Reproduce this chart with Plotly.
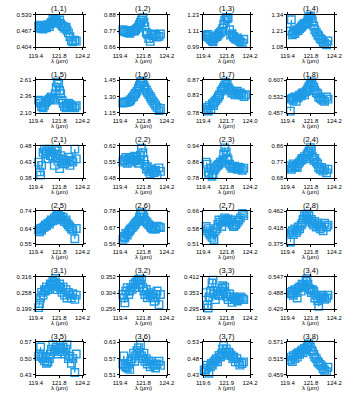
import plotly.graph_objects as go

# Wavelength samples (μm) shared by every panel
wavelength = [119.7, 119.8, 119.9, 120.0, 120.15, 120.3, 120.4, 120.5, 120.65, 120.8,
              120.9, 121.0, 121.15, 121.3, 121.4, 121.5, 121.6, 121.75, 121.85, 121.95,
              122.1, 122.2, 122.35, 122.5, 122.6, 122.75, 122.9, 123.05, 123.2, 123.4, 123.55]

panel_titles = ["(1,1)", "(1,2)", "(1,3)", "(1,4)", "(1,5)", "(1,6)", "(1,7)", "(1,8)",
                "(2,1)", "(2,2)", "(2,3)", "(2,4)", "(2,5)", "(2,6)", "(2,7)", "(2,8)",
                "(3,1)", "(3,2)", "(3,3)", "(3,4)", "(3,5)", "(3,6)", "(3,7)", "(3,8)"]

# Flux per panel
flux_1_1 = [0.485, 0.478, 0.490, 0.480, 0.475, 0.482, 0.488, 0.480, 0.492, 0.485, 0.495, 0.500, 0.512, 0.505, 0.515, 0.508, 0.502, 0.498, 0.510, 0.495, 0.488, 0.485, 0.478, 0.482, 0.470, 0.460, 0.445, 0.430, 0.425, 0.432, 0.428]
flux_1_2 = [0.780, 0.770, 0.765, 0.775, 0.760, 0.770, 0.755, 0.765, 0.770, 0.775, 0.770, 0.780, 0.790, 0.800, 0.815, 0.830, 0.845, 0.860, 0.830, 0.800, 0.760, 0.750, 0.720, 0.700, 0.745, 0.740, 0.750, 0.745, 0.730, 0.735, 0.750]
flux_1_3 = [1.080, 1.070, 1.085, 1.060, 1.050, 1.040, 1.030, 1.055, 1.065, 1.070, 1.080, 1.090, 1.100, 1.110, 1.130, 1.160, 1.190, 1.210, 1.200, 1.210, 1.120, 1.080, 1.090, 1.070, 1.060, 1.050, 1.060, 1.040, 1.030, 1.020, 1.050]
flux_1_4 = [1.210, 1.300, 1.180, 1.200, 1.190, 1.210, 1.220, 1.215, 1.230, 1.240, 1.250, 1.260, 1.270, 1.265, 1.280, 1.300, 1.320, 1.330, 1.310, 1.290, 1.250, 1.220, 1.200, 1.180, 1.170, 1.150, 1.140, 1.120, 1.110, 1.100, 1.130]
flux_1_5 = [2.300, 2.280, 2.250, 2.200, 2.180, 2.220, 2.260, 2.280, 2.300, 2.310, 2.330, 2.350, 2.320, 2.300, 2.400, 2.500, 2.580, 2.550, 2.450, 2.400, 2.300, 2.250, 2.200, 2.180, 2.220, 2.250, 2.230, 2.200, 2.190, 2.180, 2.210]
flux_1_6 = [1.240, 1.245, 1.250, 1.245, 1.250, 1.255, 1.260, 1.270, 1.290, 1.300, 1.320, 1.330, 1.350, 1.380, 1.400, 1.420, 1.440, 1.430, 1.400, 1.380, 1.360, 1.340, 1.320, 1.300, 1.280, 1.260, 1.240, 1.220, 1.200, 1.170, 1.190]
flux_1_7 = [0.790, 0.795, 0.785, 0.800, 0.790, 0.805, 0.800, 0.810, 0.815, 0.820, 0.825, 0.830, 0.840, 0.845, 0.850, 0.855, 0.865, 0.860, 0.850, 0.845, 0.840, 0.835, 0.840, 0.830, 0.835, 0.840, 0.830, 0.835, 0.830, 0.825, 0.830]
flux_1_8 = [0.465, 0.520, 0.525, 0.515, 0.530, 0.510, 0.525, 0.530, 0.540, 0.535, 0.545, 0.550, 0.540, 0.555, 0.560, 0.570, 0.580, 0.590, 0.600, 0.585, 0.575, 0.560, 0.550, 0.545, 0.530, 0.525, 0.520, 0.515, 0.510, 0.530, 0.520]
flux_2_1 = [0.430, 0.400, 0.390, 0.420, 0.460, 0.470, 0.455, 0.465, 0.440, 0.470, 0.450, 0.460, 0.445, 0.420, 0.470, 0.455, 0.465, 0.440, 0.410, 0.450, 0.430, 0.440, 0.425, 0.435, 0.430, 0.445, 0.420, 0.435, 0.430, 0.470, 0.440]
flux_2_2 = [0.550, 0.560, 0.555, 0.570, 0.545, 0.565, 0.560, 0.570, 0.550, 0.560, 0.575, 0.555, 0.570, 0.545, 0.560, 0.580, 0.610, 0.590, 0.560, 0.540, 0.520, 0.530, 0.510, 0.500, 0.520, 0.510, 0.505, 0.515, 0.495, 0.525, 0.510]
flux_2_3 = [0.860, 0.850, 0.810, 0.800, 0.830, 0.790, 0.800, 0.820, 0.830, 0.840, 0.845, 0.850, 0.860, 0.855, 0.870, 0.900, 0.930, 0.910, 0.880, 0.870, 0.850, 0.840, 0.830, 0.835, 0.840, 0.830, 0.825, 0.835, 0.830, 0.820, 0.830]
flux_2_4 = [0.750, 0.730, 0.740, 0.760, 0.745, 0.750, 0.740, 0.760, 0.770, 0.780, 0.790, 0.785, 0.800, 0.790, 0.810, 0.820, 0.830, 0.850, 0.840, 0.800, 0.780, 0.790, 0.770, 0.760, 0.740, 0.730, 0.740, 0.720, 0.730, 0.710, 0.730]
flux_2_5 = [0.630, 0.620, 0.640, 0.630, 0.645, 0.650, 0.660, 0.655, 0.670, 0.665, 0.680, 0.690, 0.685, 0.700, 0.690, 0.710, 0.720, 0.715, 0.700, 0.710, 0.690, 0.705, 0.680, 0.690, 0.670, 0.660, 0.650, 0.640, 0.630, 0.580, 0.640]
flux_2_6 = [0.590, 0.610, 0.600, 0.630, 0.620, 0.640, 0.650, 0.660, 0.670, 0.680, 0.690, 0.700, 0.710, 0.720, 0.740, 0.760, 0.770, 0.760, 0.740, 0.720, 0.710, 0.700, 0.690, 0.680, 0.670, 0.660, 0.670, 0.660, 0.680, 0.675, 0.670]
flux_2_7 = [0.590, 0.570, 0.580, 0.560, 0.550, 0.540, 0.560, 0.530, 0.570, 0.580, 0.600, 0.620, 0.610, 0.590, 0.620, 0.610, 0.630, 0.620, 0.615, 0.625, 0.610, 0.620, 0.600, 0.590, 0.595, 0.600, 0.610, 0.620, 0.630, 0.650, 0.640]
flux_2_8 = [0.380, 0.405, 0.410, 0.400, 0.415, 0.405, 0.410, 0.420, 0.415, 0.425, 0.430, 0.440, 0.450, 0.445, 0.455, 0.440, 0.450, 0.435, 0.440, 0.430, 0.425, 0.435, 0.420, 0.430, 0.425, 0.415, 0.420, 0.410, 0.430, 0.420, 0.425]
flux_3_1 = [0.205, 0.220, 0.240, 0.260, 0.250, 0.270, 0.265, 0.280, 0.270, 0.275, 0.290, 0.285, 0.300, 0.295, 0.310, 0.290, 0.270, 0.280, 0.290, 0.275, 0.260, 0.280, 0.250, 0.270, 0.240, 0.260, 0.250, 0.240, 0.255, 0.235, 0.250]
flux_3_2 = [0.300, 0.290, 0.275, 0.310, 0.320, 0.300, 0.310, 0.320, 0.315, 0.330, 0.320, 0.335, 0.340, 0.345, 0.340, 0.330, 0.345, 0.320, 0.310, 0.300, 0.315, 0.290, 0.300, 0.295, 0.305, 0.290, 0.280, 0.300, 0.310, 0.270, 0.300]
flux_3_3 = [0.355, 0.310, 0.300, 0.340, 0.360, 0.390, 0.400, 0.350, 0.330, 0.360, 0.350, 0.345, 0.360, 0.370, 0.380, 0.360, 0.375, 0.350, 0.340, 0.330, 0.350, 0.340, 0.320, 0.340, 0.330, 0.335, 0.325, 0.330, 0.340, 0.335, 0.330]
flux_3_4 = [0.490, 0.485, 0.495, 0.480, 0.500, 0.490, 0.470, 0.505, 0.510, 0.495, 0.520, 0.515, 0.510, 0.530, 0.540, 0.520, 0.505, 0.500, 0.490, 0.500, 0.495, 0.470, 0.480, 0.460, 0.440, 0.470, 0.480, 0.475, 0.465, 0.470, 0.480]
flux_3_5 = [0.510, 0.520, 0.550, 0.510, 0.500, 0.490, 0.505, 0.480, 0.485, 0.500, 0.520, 0.540, 0.560, 0.530, 0.540, 0.550, 0.520, 0.540, 0.530, 0.545, 0.530, 0.550, 0.520, 0.540, 0.560, 0.500, 0.510, 0.480, 0.500, 0.440, 0.520]
flux_3_6 = [0.550, 0.580, 0.545, 0.540, 0.535, 0.550, 0.530, 0.560, 0.570, 0.590, 0.560, 0.580, 0.600, 0.610, 0.590, 0.620, 0.580, 0.570, 0.590, 0.560, 0.570, 0.550, 0.560, 0.540, 0.560, 0.550, 0.545, 0.535, 0.550, 0.560, 0.545]
flux_3_7 = [0.445, 0.440, 0.450, 0.460, 0.435, 0.455, 0.465, 0.460, 0.470, 0.475, 0.480, 0.470, 0.490, 0.485, 0.495, 0.510, 0.520, 0.500, 0.510, 0.490, 0.500, 0.495, 0.490, 0.480, 0.485, 0.470, 0.480, 0.470, 0.460, 0.465, 0.470]
flux_3_8 = [0.510, 0.520, 0.505, 0.525, 0.515, 0.530, 0.520, 0.535, 0.530, 0.540, 0.545, 0.535, 0.550, 0.545, 0.555, 0.560, 0.565, 0.555, 0.545, 0.540, 0.530, 0.520, 0.515, 0.505, 0.500, 0.495, 0.490, 0.480, 0.475, 0.470, 0.485]

fluxes = [flux_1_1, flux_1_2, flux_1_3, flux_1_4, flux_1_5, flux_1_6, flux_1_7, flux_1_8,
          flux_2_1, flux_2_2, flux_2_3, flux_2_4, flux_2_5, flux_2_6, flux_2_7, flux_2_8,
          flux_3_1, flux_3_2, flux_3_3, flux_3_4, flux_3_5, flux_3_6, flux_3_7, flux_3_8]

# y tick values (low, mid, high) and their labels per panel
y_ticks = [[0.404, 0.467, 0.530], [0.66, 0.77, 0.88], [0.99, 1.11, 1.23], [1.08, 1.21, 1.34],
           [2.10, 2.36, 2.61], [1.15, 1.30, 1.45], [0.78, 0.83, 0.87], [0.457, 0.532, 0.607],
           [0.38, 0.43, 0.48], [0.48, 0.55, 0.62], [0.78, 0.86, 0.94], [0.68, 0.77, 0.86],
           [0.55, 0.64, 0.74], [0.56, 0.67, 0.78], [0.51, 0.58, 0.66], [0.375, 0.418, 0.462],
           [0.199, 0.258, 0.316], [0.256, 0.304, 0.352], [0.295, 0.353, 0.412], [0.429, 0.488, 0.547],
           [0.43, 0.50, 0.57], [0.51, 0.57, 0.63], [0.43, 0.48, 0.53], [0.459, 0.515, 0.571]]
y_labels = [["0.404", "0.467", "0.530"], ["0.66", "0.77", "0.88"], ["0.99", "1.11", "1.23"], ["1.08", "1.21", "1.34"],
            ["2.10", "2.36", "2.61"], ["1.15", "1.30", "1.45"], ["0.78", "0.83", "0.87"], ["0.457", "0.532", "0.607"],
            ["0.38", "0.43", "0.48"], ["0.48", "0.55", "0.62"], ["0.78", "0.86", "0.94"], ["0.68", "0.77", "0.86"],
            ["0.55", "0.64", "0.74"], ["0.56", "0.67", "0.78"], ["0.51", "0.58", "0.66"], ["0.375", "0.418", "0.462"],
            ["0.199", "0.258", "0.316"], ["0.256", "0.304", "0.352"], ["0.295", "0.353", "0.412"], ["0.429", "0.488", "0.547"],
            ["0.43", "0.50", "0.57"], ["0.51", "0.57", "0.63"], ["0.43", "0.48", "0.53"], ["0.459", "0.515", "0.571"]]

# x tick values per panel (most share the same range)
x_ticks_default = [119.4, 121.8, 124.2]
x_ticks_special = {6: [119.4, 121.7, 124.0], 22: [119.6, 121.9, 124.2]}

W, H = 350, 400
col_left = [30, 118, 205, 293]
plot_w = 49
row_top = [12, 78.5, 145, 211.5, 278, 344.5]
plot_h = 33

color = "#1e9be6"
family = "Liberation Sans, Arial, sans-serif"
tick_font = dict(family=family, size=6, color="black")

fig = go.Figure()
annotations = []
for i, (title, flux) in enumerate(zip(panel_titles, fluxes)):
    r, c = divmod(i, 4)
    n = "" if i == 0 else str(i + 1)
    x0 = col_left[c] / W
    x1 = (col_left[c] + plot_w) / W
    y1 = 1 - row_top[r] / H
    y0 = 1 - (row_top[r] + plot_h) / H
    xt = x_ticks_special.get(i, x_ticks_default)
    yt = y_ticks[i]

    fig.add_trace(go.Scatter(
        x=wavelength, y=flux, mode="lines+markers",
        xaxis="x" + n, yaxis="y" + n,
        line=dict(color=color, width=1),
        marker=dict(symbol="square-open", size=7.5, color=color, line=dict(width=1.4, color=color)),
        cliponaxis=False, showlegend=False,
    ))
    axis_common = dict(showline=True, linecolor="black", linewidth=1, mirror="ticks",
                       ticks="outside", ticklen=2, tickwidth=1, tickcolor="black",
                       showgrid=False, zeroline=False, tickfont=tick_font)
    fig.update_layout(**{
        "xaxis" + n: dict(domain=[x0, x1], range=[xt[0], xt[2]], tickvals=xt,
                          ticktext=[f"{v:.1f}" for v in xt], anchor="y" + n, **axis_common),
        "yaxis" + n: dict(domain=[y0, y1], range=[yt[0], yt[2]], tickvals=yt,
                          ticktext=y_labels[i], anchor="x" + n, **axis_common),
    })
    xc = (x0 + x1) / 2
    annotations.append(dict(text=title, x=xc, y=1 - (row_top[r] - 6) / H, xref="paper", yref="paper",
                            showarrow=False, font=dict(family=family, size=7.5, color="black"),
                            xanchor="center", yanchor="middle"))
    annotations.append(dict(text="λ (μm)", x=xc, y=1 - (row_top[r] + plot_h + 13.5) / H, xref="paper",
                            yref="paper", showarrow=False, font=tick_font, xanchor="center", yanchor="middle"))

fig.update_layout(width=W, height=H, margin=dict(l=0, r=0, t=0, b=0),
                  paper_bgcolor="white", plot_bgcolor="white", annotations=annotations)
fig.write_html("out.html")
